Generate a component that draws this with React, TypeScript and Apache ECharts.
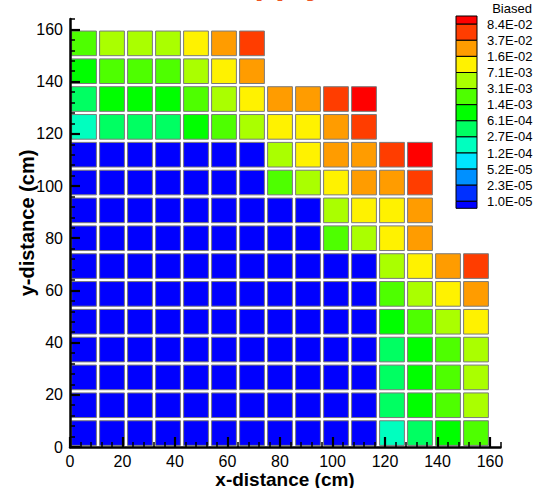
import React, { useEffect, useRef } from "react";
import * as echarts from "echarts";

// ---- data ----
const CELLS_PER_SIDE = 15;
const CELL_SPAN = 160; // cm covered by the 15 cells
const B = 5.0e-6; // below lowest contour level (deep blue)

// rows listed from the top row (highest y) to the bottom row (y = 0)
const rowsTopToBottom: (number | null)[][] = [
  [2.2e-3, 5.0e-3, 5.0e-3, 5.0e-3, 1.1e-2, 2.6e-2, 5.8e-2],
  [1.0e-3, 2.2e-3, 2.2e-3, 2.2e-3, 5.0e-3, 1.1e-2, 2.6e-2],
  [4.5e-4, 1.0e-3, 1.0e-3, 1.0e-3, 2.2e-3, 5.0e-3, 1.1e-2, 2.6e-2, 2.6e-2, 5.8e-2, 1.1e-1],
  [2.0e-4, 4.5e-4, 4.5e-4, 4.5e-4, 1.0e-3, 2.2e-3, 5.0e-3, 1.1e-2, 1.1e-2, 2.6e-2, 5.8e-2],
  [B, B, B, B, B, B, B, 5.0e-3, 1.1e-2, 2.6e-2, 2.6e-2, 5.8e-2, 1.1e-1],
  [B, B, B, B, B, B, B, 2.2e-3, 5.0e-3, 1.1e-2, 2.6e-2, 2.6e-2, 5.8e-2],
  [B, B, B, B, B, B, B, B, B, 5.0e-3, 1.1e-2, 1.1e-2, 2.6e-2],
  [B, B, B, B, B, B, B, B, B, 2.2e-3, 5.0e-3, 1.1e-2, 2.6e-2],
  [B, B, B, B, B, B, B, B, B, B, B, 5.0e-3, 1.1e-2, 2.6e-2, 5.8e-2],
  [B, B, B, B, B, B, B, B, B, B, B, 2.2e-3, 5.0e-3, 1.1e-2, 2.6e-2],
  [B, B, B, B, B, B, B, B, B, B, B, 1.0e-3, 2.2e-3, 5.0e-3, 1.1e-2],
  [B, B, B, B, B, B, B, B, B, B, B, 4.5e-4, 1.0e-3, 2.2e-3, 5.0e-3],
  [B, B, B, B, B, B, B, B, B, B, B, 4.5e-4, 1.0e-3, 2.2e-3, 5.0e-3],
  [B, B, B, B, B, B, B, B, B, B, B, 4.5e-4, 1.0e-3, 2.2e-3, 5.0e-3],
  [B, B, B, B, B, B, B, B, B, B, B, 2.0e-4, 4.5e-4, 1.0e-3, 2.2e-3],
];

// contour levels (low -> high) and colours (13 bands, low -> high)
const levels = [1.0e-5, 2.3e-5, 5.2e-5, 1.2e-4, 2.7e-4, 6.1e-4, 1.4e-3, 3.1e-3, 7.1e-3, 1.6e-2, 3.7e-2, 8.4e-2];
const levelLabels = ["1.0E-05", "2.3E-05", "5.2E-05", "1.2E-04", "2.7E-04", "6.1E-04", "1.4E-03", "3.1E-03", "7.1E-03", "1.6E-02", "3.7E-02", "8.4E-02"];
const bandColors = [
  "#0000ff", "#0030ff", "#0090ff", "#00e5ff", "#00ffbf", "#00ff62", "#00ff00",
  "#4eff00", "#aaff00", "#fff200", "#ff9c00", "#ff3d00", "#ff0000",
];

const xTickValues = [0, 20, 40, 60, 80, 100, 120, 140, 160];
const yTickValues = [0, 20, 40, 60, 80, 100, 120, 140, 160];
const minorTickValues = [
  4, 8, 12, 16, 24, 28, 32, 36, 44, 48, 52, 56, 64, 68, 72, 76, 84, 88, 92, 96,
  104, 108, 112, 116, 124, 128, 132, 136, 144, 148, 152, 156, 164,
];
const AXIS_MAX = 164;

const titleText = "Apply";
const legendTitle = "Biased";
const xName = "x-distance (cm)";
const yName = "y-distance (cm)";

const FONT = "'Liberation Sans', Arial, sans-serif";

export default function App() {
  const ref = useRef<HTMLDivElement>(null);

  useEffect(() => {
    if (!ref.current) return;
    document.body.style.margin = "0";
    const chart = echarts.init(ref.current, null, { renderer: "svg" });

    const cell = CELL_SPAN / CELLS_PER_SIDE;
    const data: number[][] = [];
    rowsTopToBottom.forEach((row, ri) => {
      const r = rowsTopToBottom.length - 1 - ri;
      row.forEach((v, c) => {
        if (v == null) return;
        data.push([c * cell, r * cell, (c + 1) * cell, (r + 1) * cell, v]);
      });
    });

    const pieces: any[] = [];
    pieces.push({ lt: levels[0], color: bandColors[0] });
    for (let i = 0; i < levels.length - 1; i++) {
      pieces.push({ gte: levels[i], lt: levels[i + 1], color: bandColors[i + 1] });
    }
    pieces.push({ gte: levels[levels.length - 1], color: bandColors[bandColors.length - 1] });

    // legend (colour bar) graphics
    const lgX = 456, lgW = 21, lgTop = 16, lgFirst = 24.2, lgStep = 16.1, lgBottom = 208.3;
    const legendEls: any[] = [];
    const nb = bandColors.length;
    for (let k = 0; k < nb; k++) {
      const colorIdx = nb - 1 - k;
      const y0 = k === 0 ? lgTop : lgFirst + (k - 1) * lgStep;
      const y1 = k === nb - 1 ? lgBottom : lgFirst + k * lgStep;
      legendEls.push({
        type: "rect",
        shape: { x: lgX, y: y0, width: lgW, height: y1 - y0 },
        style: { fill: bandColors[colorIdx], stroke: "#000", lineWidth: 1 },
      });
    }
    for (let k = 0; k < levelLabels.length; k++) {
      const label = levelLabels[levelLabels.length - 1 - k];
      legendEls.push({
        type: "text",
        x: 487,
        y: lgFirst + k * lgStep,
        style: { text: label, font: `13px ${FONT}`, fill: "#000", align: "left", verticalAlign: "middle" },
      });
    }
    legendEls.push({
      type: "text",
      x: 512,
      y: 8,
      style: { text: legendTitle, font: `13px ${FONT}`, fill: "#000", align: "center", verticalAlign: "middle" },
    });

    const baseAxis = {
      type: "value",
      min: 0,
      max: AXIS_MAX,
      z: 5,
      splitLine: { show: false },
    };

    chart.setOption({
      animation: false,
      backgroundColor: "#fff",
      grid: { left: 70, right: 35.5, top: 19, bottom: 41 },
      visualMap: {
        type: "piecewise",
        show: false,
        dimension: 4,
        pieces,
        seriesIndex: 0,
      },
      xAxis: [
        {
          ...baseAxis,
          position: "bottom",
          axisLine: { show: true, onZero: false, lineStyle: { color: "#000", width: 2.5 } },
          axisTick: { show: true, inside: true, length: 10, customValues: xTickValues, lineStyle: { color: "#000", width: 2.2 } },
          axisLabel: { show: true, customValues: xTickValues, color: "#000", fontSize: 16, fontFamily: FONT, margin: 6 },
        },
        {
          ...baseAxis,
          position: "bottom",
          axisLine: { show: false, onZero: false },
          axisTick: { show: true, inside: true, length: 5, customValues: minorTickValues, lineStyle: { color: "#000", width: 1.5 } },
          axisLabel: { show: false },
        },
      ],
      yAxis: [
        {
          ...baseAxis,
          position: "left",
          axisLine: { show: true, onZero: false, lineStyle: { color: "#000", width: 2.5 } },
          axisTick: { show: true, inside: true, length: 10, customValues: yTickValues, lineStyle: { color: "#000", width: 2.2 } },
          axisLabel: { show: true, customValues: yTickValues, color: "#000", fontSize: 16, fontFamily: FONT, margin: 7 },
        },
        {
          ...baseAxis,
          position: "left",
          axisLine: { show: false, onZero: false },
          axisTick: { show: true, inside: true, length: 5, customValues: minorTickValues, lineStyle: { color: "#000", width: 1.5 } },
          axisLabel: { show: false },
        },
      ],
      series: [
        {
          type: "custom",
          z: 2,
          xAxisIndex: 0,
          yAxisIndex: 0,
          encode: { x: [0, 2], y: [1, 3] },
          data,
          renderItem: (params: any, api: any) => {
            const p0 = api.coord([api.value(0), api.value(3)]);
            const p1 = api.coord([api.value(2), api.value(1)]);
            const inset = 1.6;
            return {
              type: "rect",
              shape: {
                x: p0[0] + inset,
                y: p0[1] + inset,
                width: p1[0] - p0[0] - 2 * inset,
                height: p1[1] - p0[1] - 2 * inset,
              },
              style: { fill: api.visual("color"), stroke: "#7a7a7a", lineWidth: 1 },
            };
          },
        },
      ],
      graphic: [
        {
          type: "text",
          x: 230,
          y: -18,
          style: { text: titleText, font: `bold 34px ${FONT}`, fill: "#ee5522", align: "left", verticalAlign: "middle" },
        },
        {
          type: "text",
          x: 285,
          y: 479,
          style: { text: xName, font: `bold 19px ${FONT}`, fill: "#000", align: "center", verticalAlign: "middle" },
        },
        {
          type: "text",
          x: 27,
          y: 223,
          rotation: Math.PI / 2,
          style: { text: yName, font: `bold 20px ${FONT}`, fill: "#000", align: "center", verticalAlign: "middle" },
        },
        ...legendEls,
      ],
    });

    return () => chart.dispose();
  }, []);

  return <div ref={ref} style={{ width: 536, height: 488 }} />;
}
